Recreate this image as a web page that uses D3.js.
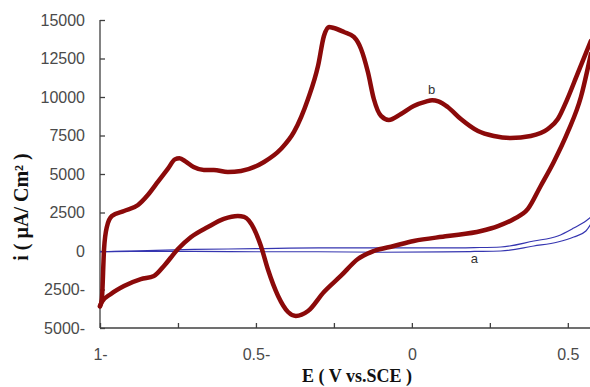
<!DOCTYPE html>
<html><head><meta charset="utf-8">
<script src="https://cdn.jsdelivr.net/npm/d3@7"></script>
<style>
html,body{margin:0;padding:0;background:#fff;overflow:hidden}
svg{display:block}
</style></head>
<body>
<svg id="chart" width="590" height="387"></svg>
<script>
// ---- data ----
// curve b: anodic (forward) scan
const bForwardE = [-1.0, -0.994, -0.987, -0.978, -0.962, -0.923, -0.878, -0.846, -0.814, -0.782, -0.760, -0.745, -0.725, -0.700, -0.667, -0.635, -0.590, -0.548, -0.474, -0.420, -0.378, -0.333, -0.301, -0.282, -0.266, -0.250, -0.218, -0.186, -0.163, -0.141, -0.122, -0.099, -0.074, -0.035, 0.006, 0.045, 0.065, 0.085, 0.115, 0.157, 0.212, 0.263, 0.317, 0.381, 0.436, 0.468, 0.497, 0.532, 0.574];
const bForwardI = [-3600, -3120, 130, 1560, 2270, 2600, 2990, 3650, 4500, 5350, 5950, 6030, 5800, 5450, 5260, 5260, 5130, 5200, 5780, 6620, 7730, 9870, 12010, 13960, 14550, 14480, 14220, 13900, 13120, 11620, 9870, 8770, 8510, 8900, 9420, 9700, 9790, 9720, 9350, 8570, 7790, 7470, 7340, 7470, 7920, 8570, 9800, 11550, 13640];
// curve b: cathodic (reverse) scan
const bReverseE = [0.574, 0.542, 0.500, 0.455, 0.413, 0.372, 0.327, 0.276, 0.222, 0.115, 0.006, -0.058, -0.122, -0.173, -0.228, -0.282, -0.333, -0.372, -0.397, -0.429, -0.462, -0.484, -0.506, -0.538, -0.558, -0.603, -0.654, -0.708, -0.750, -0.795, -0.827, -0.869, -0.923, -0.965, -0.994, -1.0];
const bReverseI = [12790, 10000, 7730, 5780, 4220, 2730, 2080, 1620, 1300, 970, 650, 325, 0, -520, -1620, -2660, -3900, -4220, -3960, -2920, -1170, 325, 1430, 2210, 2270, 2080, 1560, 910, 130, -970, -1620, -1820, -2270, -2790, -3310, -3570];
// curve a: forward / reverse
const aForwardE = [-1.0, -0.9, -0.7, -0.5, -0.3, -0.1, 0.1, 0.2, 0.285, 0.391, 0.468, 0.519, 0.558, 0.574];
const aForwardI = [-50, 0, 100, 150, 200, 200, 200, 220, 260, 650, 975, 1490, 1950, 2200];
const aReverseE = [0.574, 0.558, 0.519, 0.468, 0.391, 0.285, 0.2, 0.1, -0.1, -0.3, -0.5, -0.7, -0.9, -1.0];
const aReverseI = [1750, 1300, 910, 585, 325, 0, -30, -60, -80, -50, -50, -30, -20, -50];

const yTicks = [-5000, -2500, 0, 2500, 5000, 7500, 10000, 12500, 15000];
const yTickLabels = ["5000-", "2500-", "0", "2500", "5000", "7500", "10000", "12500", "15000"];
const xTicks = [-1, -0.75, -0.5, -0.25, 0, 0.25, 0.5];
const xTickLabels = ["1-", "", "0.5-", "", "0", "", "0.5"];

const xTitle = "E ( V vs.SCE )";
const yTitle = "i ( µA/ Cm² )";

// ---- chart ----
const svg = d3.select("#chart");
const x = d3.scaleLinear().domain([-1, 0.6]).range([100, 599]);
const y = d3.scaleLinear().domain([-5000, 15000]).range([328, 20]);

const axisColor = "#404040";

const gx = svg.append("g").attr("transform", "translate(0,328)")
  .call(d3.axisBottom(x).tickValues(xTicks)
    .tickFormat((d, i) => xTickLabels[i])
    .tickSizeInner(-5).tickSizeOuter(0).tickPadding(21));
const gy = svg.append("g").attr("transform", "translate(100,0)")
  .call(d3.axisLeft(y).tickValues(yTicks)
    .tickFormat((d, i) => yTickLabels[i])
    .tickSizeInner(-5).tickSizeOuter(0).tickPadding(15));

[gx, gy].forEach(g => {
  g.select(".domain").attr("stroke", axisColor).attr("stroke-width", 1.3);
  g.selectAll(".tick line").attr("stroke", axisColor).attr("stroke-width", 1.3);
  g.selectAll(".tick text").attr("fill", "#4a4a4a")
    .style("font-family", "'Liberation Sans', Arial, sans-serif").style("font-size", "16px");
});
gx.select(".domain").attr("d", "M100,0H590");
gy.select(".domain").attr("d", "M0,20V328");

const line = d3.line().x(d => x(d[0])).y(d => y(d[1])).curve(d3.curveMonotoneX);

// each branch is monotone in E; sort ascending so the monotone curve can be used
const zip = (a, b) => a.map((v, i) => [v, b[i]]).sort((p, q) => p[0] - q[0]);

const plot = svg.append("g");
// curve a
plot.append("path").datum(zip(aForwardE, aForwardI)).attr("d", line)
  .attr("fill", "none").attr("stroke", "#3535b0").attr("stroke-width", 1.2);
plot.append("path").datum(zip(aReverseE, aReverseI)).attr("d", line)
  .attr("fill", "none").attr("stroke", "#3535b0").attr("stroke-width", 1.2);
// curve b
plot.append("path").datum(zip(bForwardE, bForwardI)).attr("d", line)
  .attr("fill", "none").attr("stroke", "#8b0a0a").attr("stroke-width", 4.5)
  .attr("stroke-linejoin", "round").attr("stroke-linecap", "round");
plot.append("path").datum(zip(bReverseE, bReverseI)).attr("d", line)
  .attr("fill", "none").attr("stroke", "#8b0a0a").attr("stroke-width", 4.5)
  .attr("stroke-linejoin", "round").attr("stroke-linecap", "round");

// curve labels
svg.append("text").attr("x", x(0.063)).attr("y", y(10200)).attr("text-anchor", "middle")
  .style("font-family", "'Liberation Sans', Arial, sans-serif").style("font-size", "13px")
  .attr("fill", "#333").text("b");
svg.append("text").attr("x", x(0.2)).attr("y", y(-800)).attr("text-anchor", "middle")
  .style("font-family", "'Liberation Sans', Arial, sans-serif").style("font-size", "13px")
  .attr("fill", "#333").text("a");

// axis titles
svg.append("text").attr("x", 357).attr("y", 382).attr("text-anchor", "middle")
  .style("font-family", "'Liberation Serif', 'Times New Roman', serif").style("font-weight", "bold")
  .style("font-size", "18px").attr("fill", "#111").text(xTitle);
svg.append("text").attr("transform", "translate(28,207) rotate(-90)").attr("text-anchor", "middle")
  .style("font-family", "'Liberation Serif', 'Times New Roman', serif").style("font-weight", "bold")
  .style("font-size", "20px").attr("fill", "#111").text(yTitle);
</script>
</body></html>
